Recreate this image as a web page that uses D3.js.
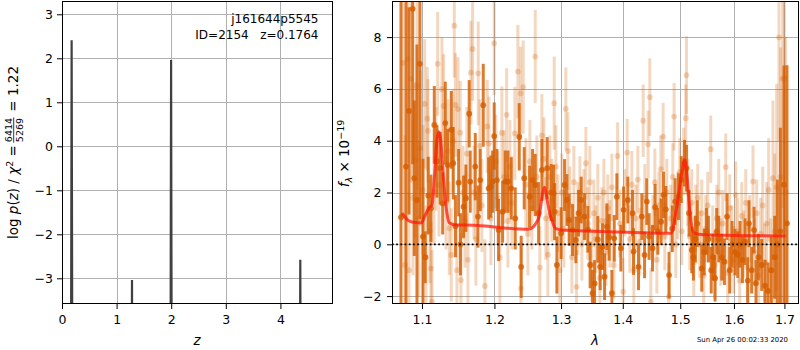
<!DOCTYPE html>
<html><head><meta charset="utf-8">
<script src="https://cdn.jsdelivr.net/npm/d3@7"></script>
<style>
body{margin:0;background:#fff;}
text{font-family:"DejaVu Sans",sans-serif;fill:#000;}
</style></head><body>
<svg id="c" width="800" height="350" xmlns="http://www.w3.org/2000/svg"></svg>
<script>
// ---------------- DATA ----------------
const objName = "j161644p5545";
const idLine = "ID=2154   z=0.1764";
const stamp = "Sun Apr 26 00:02:33 2020";

// p(z) curve (log10 p(z)); values far below the axis floor where p(z) ~ 0
const zGrid = [0.00, 0.160, 0.1764, 0.195, 1.268, 1.282, 1.296, 1.982, 1.998, 2.014, 4.350, 4.364, 4.378, 4.96];
const logPz = [-9, -9, 2.41, -9, -9, -3.04, -9, -9, 1.96, -9, -9, -2.58, -9, -9];
const zTicks = [0, 1, 2, 3, 4];
const pzTicks = [-3, -2, -1, 0, 1, 2, 3];

// individual beam spectra (light points)
const beamWave = [1.0752,1.0778,1.0813,1.0830,1.0856,1.0882,1.0912,1.0934,1.0960,1.0977,1.1013,1.1036,1.1053,1.1070,1.1079,1.1106,1.1119,1.1133,1.1160,1.1186,1.1209,1.1227,1.1267,1.1290,1.1322,1.1349,1.1367,1.1394,1.1417,1.1435,1.1451,1.1472,1.1486,1.1517,1.1527,1.1555,1.1582,1.1610,1.1624,1.1666,1.1690,1.1708,1.1736,1.1769,1.1793,1.1821,1.1864,1.1897,1.1921,1.1949,1.1997,1.2022,1.2050,1.2079,1.2108,1.2137,1.2177,1.2196,1.2225,1.2255,1.2299,1.2343,1.2383,1.2388,1.2422,1.2462,1.2492,1.2522,1.2552,1.2603,1.2628,1.2673,1.2704,1.2734,1.2765,1.2796,1.2826,1.2857,1.2893,1.2919,1.2950,1.2981,1.3012,1.3044,1.3075,1.3107,1.3138,1.3170,1.3202,1.3244,1.3265,1.3297,1.3329,1.3361,1.3393,1.3425,1.3457,1.3490,1.3522,1.3555,1.3587,1.3620,1.3653,1.3686,1.3719,1.3751,1.3784,1.3818,1.3851,1.3913,1.3951,1.4006,1.4035,1.4074,1.4119,1.4153,1.4187,1.4221,1.4256,1.4290,1.4347,1.4376,1.4433,1.4462,1.4480,1.4515,1.4550,1.4585,1.4620,1.4655,1.4695,1.4725,1.4760,1.4795,1.4831,1.4867,1.4890,1.4920,1.4956,1.4992,1.5028,1.5064,1.5101,1.5113,1.5137,1.5173,1.5210,1.5246,1.5283,1.5319,1.5356,1.5393,1.5430,1.5467,1.5504,1.5560,1.5597,1.5635,1.5673,1.5710,1.5748,1.5786,1.5843,1.5881,1.5919,1.5957,1.5996,1.6034,1.6073,1.6111,1.6150,1.6189,1.6228,1.6266,1.6305,1.6370,1.6403,1.6443,1.6482,1.6522,1.6562,1.6601,1.6641,1.6681,1.6721,1.6767,1.6802,1.6842,1.6889,1.6923,1.6964,1.6999,1.7025];
const beamFlux = [7.0,-0.8,7.15,-1.0,6.39,1.8,3.26,6.12,1.0,3.71,2.10,5.42,-0.5,4.85,4.38,0.5,-0.93,-2.22,2.0,3.3,6.97,2.3,5.99,5.34,1.6,3.6,0.62,-0.41,4.0,8.44,5.38,-1.0,5.22,4.31,-1.38,2.0,0.9,3.5,-0.6,6.63,7.54,2.0,0.2,6.6,3.8,1.5,-1.61,4.55,3.9,1.0,7.76,3.2,1.8,-0.5,4.3,2.6,5.0,0.9,3.0,1.6,4.28,6.67,5.83,-1.70,6.07,2.3,0.4,3.2,1.4,7.25,2.6,-0.9,4.2,3.3,1.0,-0.4,2.6,1.7,5.45,3.0,1.2,-1.0,2.0,0.6,5.23,3.6,1.5,-0.5,2.4,-1.64,1.0,2.0,0.0,1.5,3.13,0.8,2.4,-0.8,1.2,0.2,1.8,-1.3,0.9,2.0,-0.3,1.4,0.4,2.2,-0.8,3.41,0.8,-1.83,1.6,3.54,0.2,2.3,-1.0,1.0,2.5,0.1,4.77,1.8,3.86,5.68,-2.22,0.6,2.4,-0.6,1.5,2.9,4.16,0.3,2.0,-2.02,1.0,2.6,4.93,0.0,1.5,2.8,0.5,3.2,4.87,6.53,2.0,0.3,1.6,-0.7,1.0,1.8,0.0,1.2,-1.2,0.6,1.5,3.67,0.2,-0.8,1.0,2.0,-0.3,0.8,2.98,-1.1,1.4,0.2,-0.6,1.9,0.5,-1.4,1.1,0.0,1.6,-0.9,0.6,2.42,-0.3,1.2,-1.2,0.4,1.5,-0.7,0.8,2.1,-1.0,2.55,0.5,2.2,7.99,2.6,6.4,6.41,2.0];
const beamErr = [6,5,4,3,4,3,3,4,3,3,2.5,2.5,2,2,2,2,1.8,2,2,2,2,2,2,2,1.8,2,1.8,1.8,2,2,2,1.8,2,2,1.8,1.8,1.8,1.8,1.8,2,2,1.8,1.8,2,1.8,1.8,1.8,1.8,1.8,1.8,2,1.8,1.8,1.8,1.8,1.8,1.8,1.8,1.8,1.8,1.8,1.8,1.8,1.8,1.8,1.8,1.6,1.6,1.6,1.8,1.6,1.6,1.6,1.6,1.6,1.6,1.6,1.6,1.8,1.6,1.5,1.5,1.5,1.5,1.6,1.5,1.5,1.4,1.4,1.4,1.4,1.4,1.4,1.4,1.4,1.4,1.4,1.4,1.3,1.3,1.3,1.3,1.3,1.3,1.3,1.3,1.3,1.3,1.3,1.3,1.3,1.3,1.3,1.3,1.3,1.3,1.3,1.3,1.3,1.3,1.4,1.3,1.3,1.5,1.3,1.3,1.3,1.3,1.3,1.3,1.3,1.3,1.3,1.3,1.3,1.3,1.3,1.3,1.3,1.3,1.3,1.3,1.3,1.5,1.3,1.3,1.3,1.3,1.3,1.3,1.3,1.3,1.3,1.3,1.3,1.3,1.3,1.3,1.3,1.3,1.3,1.3,1.3,1.3,1.3,1.3,1.3,1.3,1.3,1.3,1.3,1.3,1.3,1.3,1.3,1.4,1.3,1.3,1.3,1.4,1.5,1.5,1.6,2,2,3,3,4,4,5,5,6,6];

// combined / binned spectrum (dark points)
const specWave = [1.0726,1.0791,1.0830,1.0878,1.0899,1.0934,1.0973,1.1013,1.1043,1.1083,1.1119,1.1164,1.1200,1.1244,1.1277,1.1312,1.1345,1.1394,1.1421,1.1451,1.1495,1.1520,1.1564,1.1596,1.1642,1.1656,1.1727,1.1765,1.1797,1.1840,1.1917,1.1949,1.1974,1.1997,1.2036,1.2060,1.2118,1.2156,1.2196,1.2244,1.2304,1.2363,1.2392,1.2437,1.2518,1.2563,1.2603,1.2654,1.2704,1.2785,1.2846,1.2884,1.2899,1.2935,1.3001,1.3055,1.3091,1.3127,1.3181,1.3233,1.3276,1.3318,1.3372,1.3425,1.3462,1.3501,1.3534,1.3587,1.3625,1.3664,1.3697,1.3735,1.3773,1.3818,1.3857,1.3901,1.3968,1.4013,1.4085,1.4165,1.4182,1.4267,1.4324,1.4371,1.4410,1.4450,1.4509,1.4555,1.4602,1.4660,1.4702,1.4743,1.4801,1.4858,1.4908,1.4969,1.5019,1.5077,1.5115,1.5160,1.5210,1.5239,1.5276,1.5310,1.5393,1.5439,1.5480,1.5517,1.5569,1.5603,1.5641,1.5673,1.5710,1.5767,1.5818,1.5868,1.5919,1.5963,1.6021,1.6073,1.6117,1.6164,1.6214,1.6266,1.6291,1.6344,1.6390,1.6429,1.6476,1.6542,1.6608,1.6668,1.6735,1.6802,1.6857,1.6917,1.6990,1.7052];
const specFlux = [1.04,3.0,5.15,9.09,2.55,1.71,6.97,0.3,-0.50,1.88,1.39,4.61,3.2,2.94,1.58,4.68,3.06,4.42,3.13,0.7,2.38,0.0,1.45,1.78,5.04,2.42,3.0,1.07,2.48,5.37,2.16,2.23,2.42,4.18,2.48,0.55,1.26,2.42,2.42,2.16,1.0,4.15,-0.87,2.55,1.84,2.48,2.29,1.2,2.87,2.94,2.0,1.97,1.26,-0.80,0.43,2.29,1.71,0.94,0.55,0.17,1.2,1.71,1.07,0.58,-0.80,-1.89,-1.51,0.19,-0.87,-0.09,-1.25,0.68,0.27,-1.89,0.23,1.84,-0.15,1.33,1.71,1.2,-0.28,-0.87,1.07,-0.41,1.65,0.3,-0.15,1.43,0.5,0.87,1.91,1.35,-1.19,0.6,1.65,1.84,2.5,3.13,2.94,1.2,-0.22,-0.5,0.2,0.8,-0.93,-0.3,0.5,0.2,-1.0,-0.5,-1.31,0.5,0.2,-0.5,-0.67,1.07,-1.0,0.0,-0.3,-0.4,0.0,-0.6,0.1,-1.4,0.8,-1.0,0.55,-1.5,-0.5,-0.8,-1.6,-1.8,-1.0,-0.5,0.0,0.5,2.3,0.81];
const specErr = [9,7,4,6,3,6,6,3,1.0,1.5,1.3,1.5,1.4,1.4,1.2,1.6,1.4,1.5,1.4,1.2,1.3,1.2,1.2,1.3,1.3,1.2,1.3,1.2,1.2,1.6,1.2,1.2,1.2,1.3,1.2,1.2,1.2,1.2,1.2,1.2,1.2,1.3,1.2,1.2,1.2,1.2,1.2,1.2,1.2,1.2,1.1,1.1,1.1,1.1,1.0,1.0,1.0,1.0,1.0,0.9,0.9,0.9,0.9,0.9,0.9,0.9,0.9,0.9,0.9,0.9,0.9,0.9,0.9,0.9,0.9,0.9,0.9,0.9,0.9,0.9,0.9,0.9,0.9,0.9,0.9,0.9,0.9,0.9,0.9,0.9,0.9,0.9,0.9,0.9,0.9,0.9,0.9,0.9,0.9,0.9,0.9,0.9,0.9,0.9,0.9,0.9,0.9,0.9,0.9,0.9,0.9,0.9,0.9,0.9,0.9,0.9,0.9,0.9,0.9,0.9,0.9,0.9,0.9,0.9,0.9,0.9,0.9,0.9,0.9,1.0,1.0,1.1,1.3,1.6,2.5,4,4.6,6.1];

// best-fit model
const modelWave = [1.0739,1.0826,1.0908,1.0990,1.1043,1.1088,1.1133,1.1169,1.1200,1.1223,1.1250,1.1290,1.1335,1.1367,1.1449,1.1708,1.2108,1.2503,1.2654,1.2715,1.2745,1.2785,1.2837,1.2857,1.2909,1.3012,1.4187,1.4836,1.4938,1.5028,1.5077,1.5119,1.5178,1.5241,1.5333,1.5616,1.7025];
const modelFlux = [1.20,0.91,0.84,0.83,1.13,1.39,1.52,2.74,4.03,4.35,4.03,2.49,1.20,0.83,0.75,0.74,0.64,0.58,1.0,1.97,2.2,1.71,1.07,0.94,0.62,0.55,0.46,0.43,1.45,2.74,3.26,2.74,1.2,0.46,0.39,0.36,0.32];

const waveTicks = [1.1, 1.2, 1.3, 1.4, 1.5, 1.6, 1.7];
const fluxTicks = [-2, 0, 2, 4, 6, 8];

// ---------------- DRAW ----------------
const svg = d3.select("#c");
const G141 = "#d55e00";
const gridCol = "#b0b0b0";

// Left panel
const L = {x0: 62, x1: 333, y0: 1, y1: 304};
const xz = d3.scaleLinear().domain([0, 4.963]).range([L.x0, L.x1]);
const yp = d3.scaleLinear().domain([-3.584, 3.302]).range([L.y1, L.y0]);

// Right panel
const R = {x0: 392, x1: 799, y0: 1, y1: 304};
const xw = d3.scaleLog().domain([1.0611, 1.7300]).range([R.x0, R.x1]);
const yf = d3.scaleLinear().domain([-2.305, 9.394]).range([R.y1, R.y0]);

const defs = svg.append("defs");
defs.append("clipPath").attr("id","clipL").append("rect")
  .attr("x",L.x0).attr("y",L.y0).attr("width",L.x1-L.x0).attr("height",L.y1-L.y0);
defs.append("clipPath").attr("id","clipR").append("rect")
  .attr("x",R.x0).attr("y",R.y0).attr("width",R.x1-R.x0).attr("height",R.y1-R.y0);

function grid(P, xs, ys, xt, yt){
  const g = svg.append("g").attr("shape-rendering","crispEdges");
  g.selectAll(".gx").data(xt).join("line")
    .attr("x1",d=>Math.round(xs(d))+0.5).attr("x2",d=>Math.round(xs(d))+0.5)
    .attr("y1",P.y0).attr("y2",P.y1).attr("stroke",gridCol).attr("stroke-width",1);
  g.selectAll(".gy").data(yt).join("line")
    .attr("y1",d=>Math.round(ys(d))+0.5).attr("y2",d=>Math.round(ys(d))+0.5)
    .attr("x1",P.x0).attr("x2",P.x1).attr("stroke",gridCol).attr("stroke-width",1);
}
grid(L, xz, yp, zTicks, pzTicks);
grid(R, xw, yf, waveTicks, fluxTicks);

// p(z) line
svg.append("g").attr("clip-path","url(#clipL)").append("path")
  .datum(d3.zip(zGrid, logPz))
  .attr("d", d3.line().x(d=>xz(d[0])).y(d=>yp(d[1])))
  .attr("fill","none").attr("stroke","#404040").attr("stroke-width",2.2);

// spectrum panel
const gR = svg.append("g").attr("clip-path","url(#clipR)");
function errPoints(g, W, F, E, op, r, lw){
  const data = d3.range(W.length).map(i=>({w:W[i], f:F[i], e:E[i]}));
  const gg = g.append("g");
  data.forEach(d=>{
    gg.append("line").attr("x1",xw(d.w)).attr("x2",xw(d.w))
      .attr("y1",yf(d.f-d.e)).attr("y2",yf(d.f+d.e))
      .attr("stroke",G141).attr("stroke-width",lw).attr("stroke-opacity",op);
    gg.append("circle").attr("cx",xw(d.w)).attr("cy",yf(d.f)).attr("r",r)
      .attr("fill",G141).attr("fill-opacity",op);
  });
}
errPoints(gR, beamWave, beamFlux, beamErr, 0.25, 2.9, 3);
errPoints(gR, specWave, specFlux, specErr, 0.82, 2.9, 3);

gR.append("path").datum(d3.zip(modelWave, modelFlux))
  .attr("d", d3.line().x(d=>xw(d[0])).y(d=>yf(d[1])).curve(d3.curveMonotoneX))
  .attr("fill","none").attr("stroke","#ff1a0a").attr("stroke-opacity",0.75)
  .attr("stroke-width",3).attr("stroke-linejoin","round");

gR.append("line").attr("x1",R.x0).attr("x2",R.x1).attr("y1",yf(0)).attr("y2",yf(0))
  .attr("stroke","#000").attr("stroke-width",1.7).attr("stroke-dasharray","1.7,2.5");

// axes
function styleAxis(g, fs){
  g.select(".domain").remove();
  g.selectAll(".tick line").attr("stroke","#000").attr("stroke-width",1);
  g.selectAll(".tick text").attr("font-family","DejaVu Sans").attr("font-size",fs).attr("fill","#000");
}
const fmtInt = d3.format("d");
svg.append("g").attr("transform",`translate(0,${L.y1})`)
  .call(d3.axisBottom(xz).tickValues(zTicks).tickFormat(fmtInt).tickSize(5).tickPadding(6))
  .call(g=>styleAxis(g,12.5));
svg.append("g").attr("transform",`translate(${L.x0},0)`)
  .call(d3.axisLeft(yp).tickValues(pzTicks).tickFormat(fmtInt).tickSize(5).tickPadding(4))
  .call(g=>styleAxis(g,12.5));
svg.append("g").attr("transform",`translate(0,${R.y1})`)
  .call(d3.axisBottom(xw).tickValues(waveTicks).tickFormat(d3.format(".1f")).tickSize(5).tickPadding(6))
  .call(g=>styleAxis(g,12.5));
svg.append("g").attr("transform",`translate(${R.x0},0)`)
  .call(d3.axisLeft(yf).tickValues(fluxTicks).tickFormat(fmtInt).tickSize(5).tickPadding(5.5))
  .call(g=>styleAxis(g,12.5));

// frames
[L,R].forEach(P=>{
  svg.append("rect").attr("x",P.x0+0.5).attr("y",P.y0+0.5)
    .attr("width",P.x1-P.x0-1).attr("height",P.y1-P.y0-1)
    .attr("fill","none").attr("stroke","#000").attr("stroke-width",1.1)
    .attr("shape-rendering","crispEdges");
});

// annotations
svg.append("text").attr("x",318.5).attr("y",23.3).attr("text-anchor","end")
  .attr("font-size",12).text(objName);
svg.append("text").attr("x",318.5).attr("y",38.7).attr("text-anchor","end")
  .attr("font-size",12).style("white-space","pre").text(idLine);

// x labels
svg.append("text").attr("x",197).attr("y",345).attr("text-anchor","middle")
  .attr("font-size",13.5).attr("font-style","italic").text("z");
svg.append("text").attr("x",595).attr("y",345).attr("text-anchor","middle")
  .attr("font-size",13.5).attr("font-style","italic").text("λ");

// left y label (rotated, math-like)
(function(){
  const fs = 13.5;
  const outer = svg.append("g").attr("transform","translate(18,152.5) rotate(-90)");
  const g = outer.append("g");
  const t1 = g.append("text").attr("font-size",fs).style("white-space","pre");
  t1.append("tspan").text("log ");
  t1.append("tspan").attr("font-style","italic").text("p");
  t1.append("tspan").text("(");
  t1.append("tspan").attr("font-style","italic").text("z");
  t1.append("tspan").text(") / ");
  t1.append("tspan").attr("font-style","italic").text("χ");
  t1.append("tspan").attr("font-size",9.5).attr("dy",-5.5).text("2");
  t1.append("tspan").attr("dy",5.5).text(" =");
  const w1 = t1.node().getComputedTextLength();
  const ffs = 9.5;
  const num = g.append("text").attr("font-size",ffs).attr("text-anchor","middle").text("6414");
  const den = g.append("text").attr("font-size",ffs).attr("text-anchor","middle").text("5269");
  const fw = Math.max(num.node().getComputedTextLength(), den.node().getComputedTextLength());
  const fc = w1 + 3 + fw/2;
  num.attr("x",fc).attr("y",-6.2);
  den.attr("x",fc).attr("y",5.2);
  g.append("line").attr("x1",w1+2.5).attr("x2",w1+3.5+fw).attr("y1",-4.3).attr("y2",-4.3)
    .attr("stroke","#000").attr("stroke-width",0.8);
  const t2 = g.append("text").attr("font-size",fs).attr("x",w1+fw+5).style("white-space","pre").text(" = 1.22");
  const W = w1 + fw + 5 + t2.node().getComputedTextLength();
  g.attr("transform",`translate(${-W/2},0)`);
})();

// right y label
(function(){
  const fs = 13.5;
  const outer = svg.append("g").attr("transform","translate(349,153.5) rotate(-90)");
  const t = outer.append("text").attr("font-size",fs).attr("text-anchor","middle").style("white-space","pre");
  t.append("tspan").attr("font-style","italic").text("f");
  t.append("tspan").attr("font-style","italic").attr("font-size",9.5).attr("dy",3).text("λ");
  t.append("tspan").attr("dy",-3).text(" × 10");
  t.append("tspan").attr("font-size",9.5).attr("dy",-5.5).text("−19");
})();

// timestamp
svg.append("text").attr("x",788).attr("y",341.5).attr("text-anchor","end")
  .attr("font-size",6.9).text(stamp);
</script>
</body></html>
